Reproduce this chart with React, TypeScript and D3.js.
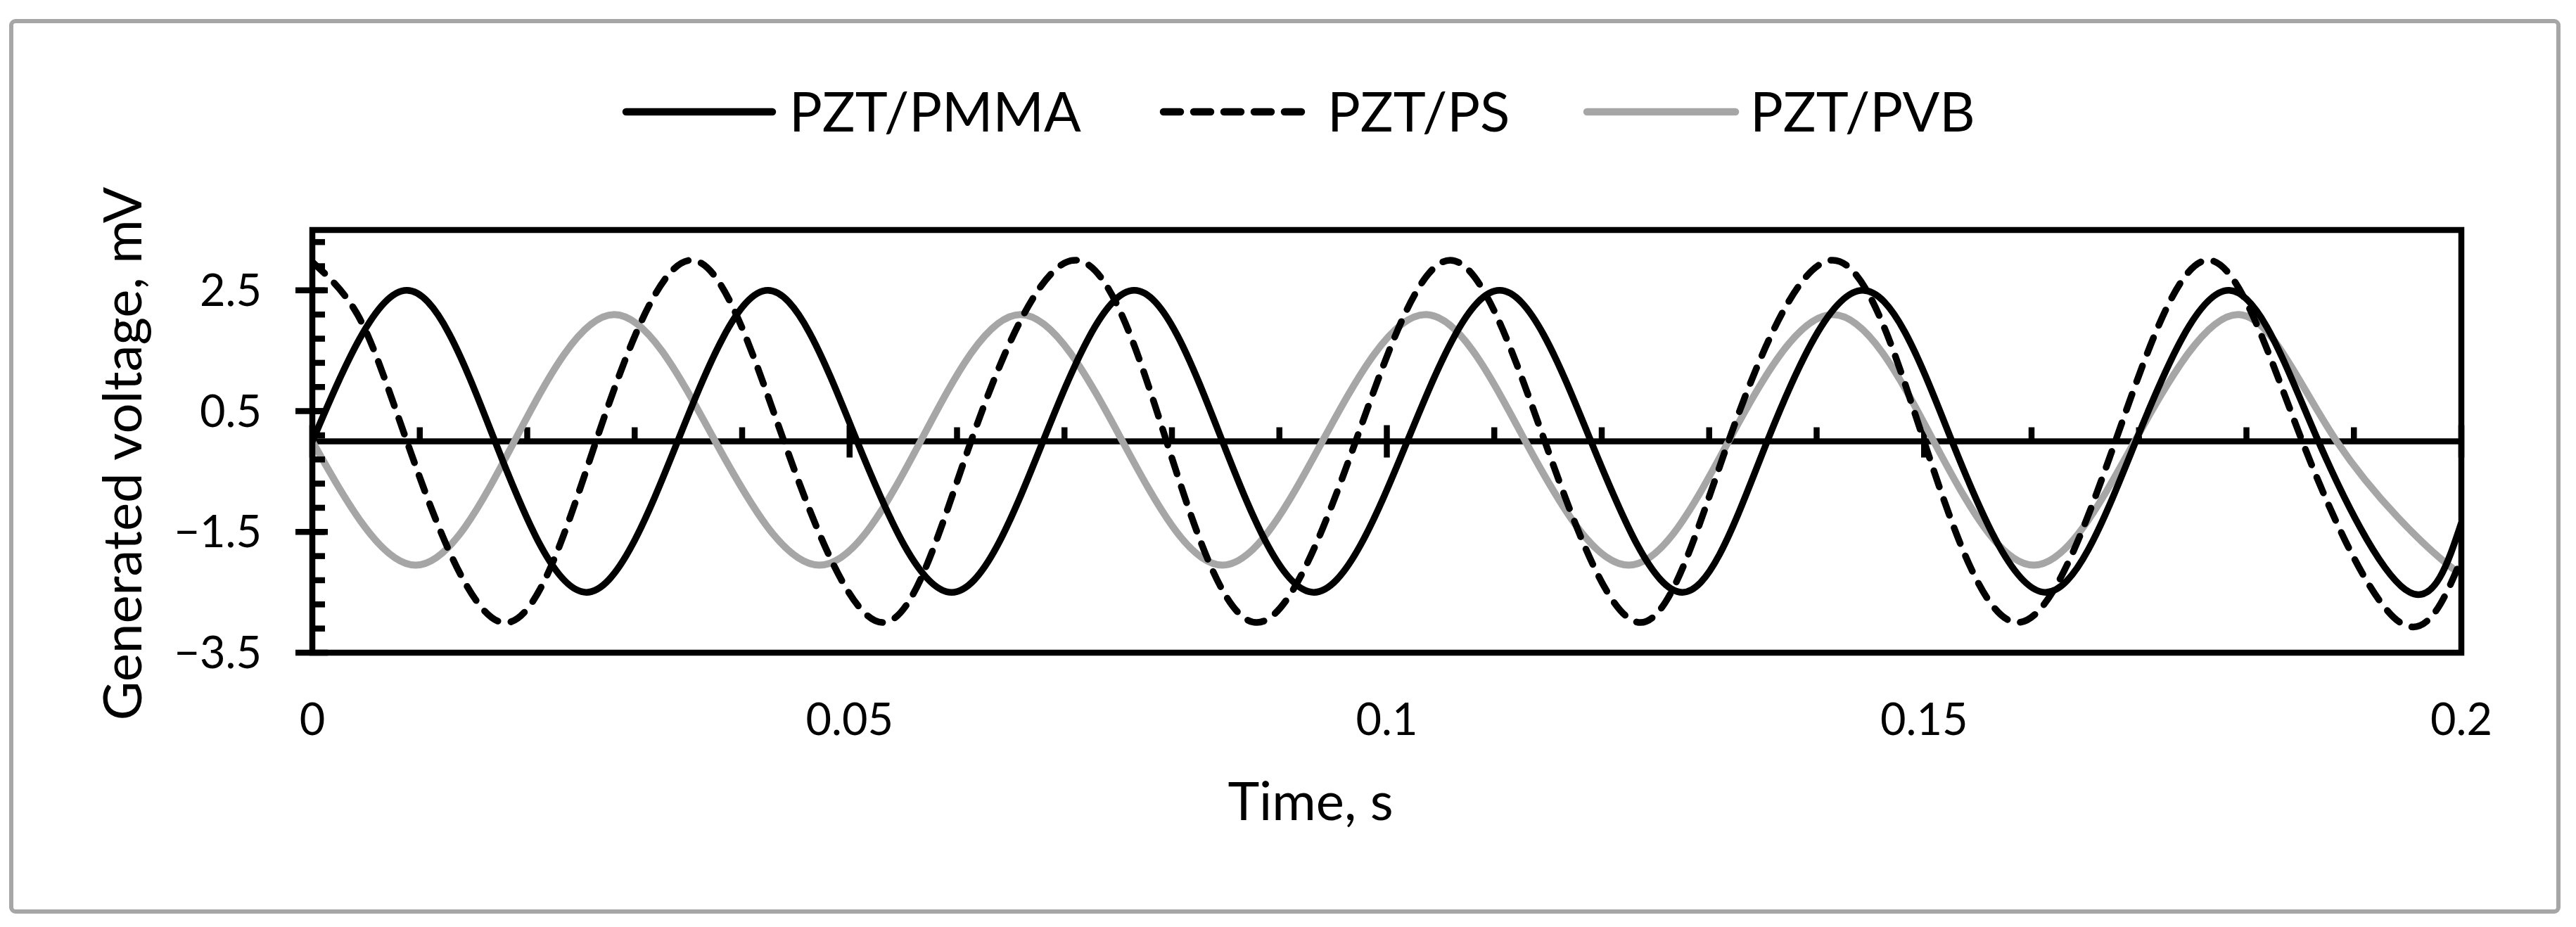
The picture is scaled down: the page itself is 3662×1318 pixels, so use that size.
import React, { useEffect } from "react";
import * as d3 from "d3";

// ---- data (key points of each trace) ----
const pmmaTime = [0, 0.0088, 0.017, 0.0255, 0.034, 0.0424, 0.0507, 0.0595, 0.068, 0.0765, 0.0847, 0.0932, 0.1019, 0.1105, 0.119, 0.1275, 0.1354, 0.1443, 0.1526, 0.1613, 0.1697, 0.1784, 0.1867, 0.1952, 0.2];
const pmmaVoltage = [0, 2.5, 0, -2.5, 0, 2.5, 0, -2.5, 0, 2.5, 0, -2.5, 0, 2.5, 0, -2.5, 0, 2.5, 0, -2.5, 0, 2.5, 0, -2.5, -1.35];

const psTime = [0, 0.0042, 0.0088, 0.0177, 0.0264, 0.0353, 0.0439, 0.0531, 0.0613, 0.071, 0.0795, 0.0879, 0.0971, 0.1059, 0.1147, 0.1236, 0.1318, 0.1415, 0.15, 0.1587, 0.1678, 0.1765, 0.1852, 0.1943, 0.2];
const psVoltage = [2.97, 2.1, 0, -3.0, 0, 3.0, 0, -3.0, 0, 3.0, 0, -3.0, 0, 3.0, 0, -3.0, 0, 3.0, 0, -3.0, 0, 3.0, 0, -3.0, -1.95];

const pvbTime = [0, 0.0096, 0.0188, 0.0281, 0.0375, 0.0472, 0.0566, 0.0659, 0.0754, 0.0847, 0.094, 0.1036, 0.1129, 0.1225, 0.1318, 0.1415, 0.1509, 0.1602, 0.1696, 0.1793, 0.1884, 0.1988, 0.2];
const pvbVoltage = [0, -2.05, 0, 2.1, 0, -2.05, 0, 2.1, 0, -2.05, 0, 2.1, 0, -2.05, 0, 2.1, 0, -2.05, 0, 2.1, 0, -2.05, -1.97];

const seriesNames = ["PZT/PMMA", "PZT/PS", "PZT/PVB"];

const xMajorTicks = [0, 0.05, 0.1, 0.15, 0.2];
const xTickLabels = ["0", "0.05", "0.1", "0.15", "0.2"];
const yMajorTicks = [-3.5, -1.5, 0.5, 2.5];
const yTickLabels = ["\u22123.5", "\u22121.5", "0.5", "2.5"];
const xTitle = "Time, s";
const yTitle = "Generated voltage, mV";

const W = 3662;
const H = 1318;
const FONT = "Lato, 'Open Sans', 'Liberation Sans', sans-serif";

export default function App() {
  useEffect(() => {
    document.body.style.margin = "0";
  }, []);

  const plot = { left: 444, right: 3499, top: 327, bottom: 928 };
  const x = d3.scaleLinear().domain([0, 0.2]).range([plot.left, plot.right]);
  const y = d3.scaleLinear().domain([-3.5, 3.5]).range([plot.bottom, plot.top]);

  const line = d3
    .line<[number, number]>()
    .x((d) => x(d[0]))
    .y((d) => y(d[1]))
    .curve(d3.curveNatural);

  const pmma = line(pmmaTime.map((t, i) => [t, pmmaVoltage[i]] as [number, number])) || "";
  const ps = line(psTime.map((t, i) => [t, psVoltage[i]] as [number, number])) || "";
  const pvb = line(pvbTime.map((t, i) => [t, pvbVoltage[i]] as [number, number])) || "";

  const xMinor = d3.range(1, 20).map((k) => k / 100).filter((v) => Math.abs(v * 20 - Math.round(v * 20)) > 1e-6);
  const yMinor = d3.range(0, 18).map((k) => -3.5 + 0.4 * k).filter((v) => v > -3.5 && v < 3.5);

  const y0 = y(0);
  const axisW = 8.5;
  const lineW = 9.5;
  const grey = "#a6a6a6";

  const legendY = 159;
  const legendBase = 187;
  const dash = "24 19";

  return (
    <svg
      width={W}
      height={H}
      viewBox={`0 0 ${W} ${H}`}
      style={{ position: "absolute", left: 0, top: 0, background: "#fff", display: "block" }}
      fontFamily={FONT}
    >
      <rect x={0} y={0} width={W} height={H} fill="#fff" />
      {/* chart area border */}
      <rect x={16} y={30} width={3621} height={1266} rx={6} ry={6} fill="#fff" stroke={grey} strokeWidth={6} />

      {/* legend */}
      <g>
        <line x1={890} x2={1098} y1={legendY} y2={legendY} stroke="#000" strokeWidth={lineW + 1} strokeLinecap="round" />
        <text x={1122} y={legendBase} fontSize={78} fill="#000">{seriesNames[0]}</text>
        <line x1={1654} x2={1862} y1={legendY} y2={legendY} stroke="#000" strokeWidth={lineW + 1} strokeLinecap="round" strokeDasharray={dash} />
        <text x={1887} y={legendBase} fontSize={78} fill="#000">{seriesNames[1]}</text>
        <line x1={2256} x2={2467} y1={legendY} y2={legendY} stroke={grey} strokeWidth={lineW + 1} strokeLinecap="round" />
        <text x={2488} y={legendBase} fontSize={78} fill="#000">{seriesNames[2]}</text>
      </g>

      <defs>
        <clipPath id="plotClip">
          <rect x={plot.left} y={plot.top - 10} width={plot.right - plot.left + 4} height={plot.bottom - plot.top + 20} />
        </clipPath>
      </defs>

      {/* horizontal axis at y = 0 with ticks */}
      <line x1={plot.left} x2={plot.right} y1={y0} y2={y0} stroke="#000" strokeWidth={axisW} />
      {xMinor.map((v) => (
        <line key={"xm" + v} x1={x(v)} x2={x(v)} y1={y0} y2={y0 - 20} stroke="#000" strokeWidth={axisW} />
      ))}
      {xMajorTicks.map((v) => (
        <line key={"xM" + v} x1={x(v)} x2={x(v)} y1={y0 - 23} y2={y0 + 23} stroke="#000" strokeWidth={axisW} />
      ))}

      {/* series */}
      <g clipPath="url(#plotClip)" fill="none">
        <path d={pvb} stroke={grey} strokeWidth={lineW + 0.5} strokeLinejoin="round" />
        <path d={ps} stroke="#000" strokeWidth={lineW} strokeDasharray={dash} strokeLinecap="round" strokeLinejoin="round" />
        <path d={pmma} stroke="#000" strokeWidth={lineW} strokeLinejoin="round" />
      </g>

      {/* plot frame */}
      <rect
        x={plot.left}
        y={plot.top}
        width={plot.right - plot.left}
        height={plot.bottom - plot.top}
        fill="none"
        stroke="#000"
        strokeWidth={axisW}
      />

      {/* vertical axis ticks */}
      {yMinor.map((v) => (
        <line key={"ym" + v} x1={plot.left} x2={plot.left + 18} y1={y(v)} y2={y(v)} stroke="#000" strokeWidth={axisW} />
      ))}
      {yMajorTicks.map((v) => (
        <line key={"yM" + v} x1={plot.left - 24} x2={plot.left + 22} y1={y(v)} y2={y(v)} stroke="#000" strokeWidth={axisW} />
      ))}

      {/* tick labels */}
      {yMajorTicks.map((v, i) => (
        <text key={"yl" + v} x={372} y={y(v) + 22} fontSize={63} textAnchor="end" fill="#000">
          {yTickLabels[i]}
        </text>
      ))}
      {xMajorTicks.map((v, i) => (
        <text key={"xl" + v} x={x(v)} y={1045} fontSize={63} textAnchor="middle" fill="#000">
          {xTickLabels[i]}
        </text>
      ))}

      {/* axis titles */}
      <text x={1863} y={1166} fontSize={76} textAnchor="middle" fill="#000">{xTitle}</text>
      <text transform="translate(201,645) rotate(-90)" fontSize={76} textAnchor="middle" fill="#000">{yTitle}</text>
    </svg>
  );
}
